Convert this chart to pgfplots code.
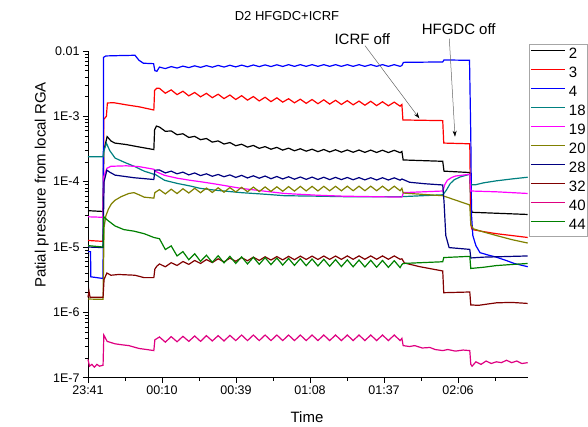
\documentclass[border=0pt]{standalone}
\usepackage{fontspec}
\setmainfont{Liberation Sans}
\usepackage{pgfplots}
\pgfplotsset{compat=1.18}
\usetikzlibrary{arrows.meta}
\definecolor{c2}{RGB}{0,0,0}
\definecolor{c3}{RGB}{255,0,0}
\definecolor{c4}{RGB}{0,0,255}
\definecolor{c18}{RGB}{0,128,128}
\definecolor{c19}{RGB}{255,0,255}
\definecolor{c20}{RGB}{128,128,0}
\definecolor{c28}{RGB}{0,0,128}
\definecolor{c32}{RGB}{128,0,0}
\definecolor{c40}{RGB}{222,0,128}
\definecolor{c44}{RGB}{0,128,0}
\begin{document}
\begin{tikzpicture}
\begin{axis}[
  scale only axis, width=439.7pt, height=326.7pt,
  at={(0,0)}, anchor=south west,
  ymode=log, xmin=0, xmax=172.3, ymin=1e-7, ymax=1e-2,
  axis lines=left, axis line style={-, line width=0.8pt},
  tick align=outside, tick style={black, line width=0.7pt},
  major tick length=5pt, minor tick length=3pt,
  xtick={0,29,58,87,116,145},
  xticklabels={23:41,00:10,00:39,01:08,01:37,02:06},
  minor xtick={14.5,43.5,72.5,101.5,130.5,159.5},
  ytick={1e-7,1e-6,1e-5,1e-4,1e-3,1e-2},
  yticklabels={1E-7,1E-6,1E-5,1E-4,1E-3,0.01},
  minor ytick={2e-7,3e-7,4e-7,5e-7,6e-7,7e-7,8e-7,9e-7,
    2e-6,3e-6,4e-6,5e-6,6e-6,7e-6,8e-6,9e-6,
    2e-5,3e-5,4e-5,5e-5,6e-5,7e-5,8e-5,9e-5,
    2e-4,3e-4,4e-4,5e-4,6e-4,7e-4,8e-4,9e-4,
    2e-3,3e-3,4e-3,5e-3,6e-3,7e-3,8e-3,9e-3},
  ticklabel style={font=\fontsize{12.5}{14}\selectfont},
  xlabel={Time}, ylabel={Patial pressure from local RGA},
  every axis y label/.style={at={(axis description cs:-0.1053,0.59)}, rotate=90, anchor=center, font=\fontsize{15}{18}\selectfont},
  every axis x label/.style={at={(axis description cs:0.498,-0.121)}, anchor=center, font=\fontsize{15}{18}\selectfont},
  clip=false,
  every axis plot/.append style={line width=1.2pt},
  legend style={at={(axis description cs:1.003,1.0205)}, anchor=north west,
    draw=gray!70, line width=0.5pt, font=\fontsize{15}{18}\selectfont,
    inner xsep=1pt, inner ysep=1pt, column sep=3pt, row sep=0pt,
    nodes={inner sep=0.5pt, text height=12.5pt, text depth=5.5pt}},
  legend cell align=left,
  legend image code/.code={\draw[#1, line width=1.2pt] (0pt,4.5pt) -- (34pt,4.5pt);},
]
% 2
\addplot[c2] coordinates {(0,3.6e-5)(5.9,3.5e-5)(6.2,3e-4)(7.5,4.9e-4)(9,4.2e-4)(10.5,3.9e-4)(15,3.7e-4)(20,3.4e-4)(25.8,3.1e-4)(26.1,6.2e-4)(26.8,7.1e-4)
(28.0,6.86e-4)(30.3,5.90e-4)(32.6,5.98e-4)(34.9,5.23e-4)(37.2,5.41e-4)(39.5,4.75e-4)(41.8,4.94e-4)(44.1,4.39e-4)(46.4,4.58e-4)(48.7,4.03e-4)(51.0,4.21e-4)(53.3,3.77e-4)(55.6,3.97e-4)(57.9,3.55e-4)(60.2,3.74e-4)(62.5,3.38e-4)(64.8,3.59e-4)(67.1,3.24e-4)(69.4,3.44e-4)(71.7,3.14e-4)(74.0,3.35e-4)(76.3,3.04e-4)(78.6,3.26e-4)(80.9,2.97e-4)(83.2,3.19e-4)(85.5,2.93e-4)(87.8,3.14e-4)(90.1,2.88e-4)(92.4,3.11e-4)(94.7,2.85e-4)(97.0,3.08e-4)(99.3,2.83e-4)(101.6,3.06e-4)(103.9,2.82e-4)(106.2,3.05e-4)(108.5,2.81e-4)(110.8,3.04e-4)(113.1,2.80e-4)(115.4,3.03e-4)(117.7,2.79e-4)(120.0,3.02e-4)(122.3,2.78e-4)
(123.0,2.9e-4)(123.5,2.15e-4)(139.0,2.05e-4)(139.5,1.45e-4)(149.6,1.38e-4)(150.0,4e-5)(150.5,3.4e-5)(172.3,3.15e-5)};
\addlegendentry{2}
% 3
\addplot[c3] coordinates {(0,1.26e-5)(5.9,1.22e-5)(6.2,9e-4)(7.2,1.0e-3)(7.6,1.6e-3)(10,1.62e-3)(15,1.5e-3)(20,1.4e-3)(25.8,1.25e-3)(26.1,2.5e-3)(27,2.7e-3)
(28.0,2.68e-3)(30.3,2.26e-3)(32.6,2.54e-3)(34.9,2.15e-3)(37.2,2.42e-3)(39.5,2.06e-3)(41.8,2.32e-3)(44.1,1.99e-3)(46.4,2.25e-3)(48.7,1.93e-3)(51.0,2.18e-3)(53.3,1.87e-3)(55.6,2.12e-3)(57.9,1.81e-3)(60.2,2.07e-3)(62.5,1.77e-3)(64.8,2.01e-3)(67.1,1.72e-3)(69.4,1.96e-3)(71.7,1.68e-3)(74.0,1.92e-3)(76.3,1.65e-3)(78.6,1.86e-3)(80.9,1.61e-3)(83.2,1.83e-3)(85.5,1.58e-3)(87.8,1.81e-3)(90.1,1.56e-3)(92.4,1.79e-3)(94.7,1.54e-3)(97.0,1.76e-3)(99.3,1.52e-3)(101.6,1.74e-3)(103.9,1.50e-3)(106.2,1.71e-3)(108.5,1.48e-3)(110.8,1.70e-3)(113.1,1.46e-3)(115.4,1.67e-3)(117.7,1.45e-3)(120.0,1.65e-3)(122.3,1.43e-3)
(123.0,1.52e-3)(123.4,8.8e-4)(139.0,8.6e-4)(139.4,3.9e-4)(149.6,3.8e-4)(150.0,2.2e-5)(150.5,1.85e-5)(155,1.72e-5)(160,1.6e-5)(166,1.5e-5)(172.3,1.4e-5)};
\addlegendentry{3}
% 4
\addplot[c4] coordinates {(0,8.5e-6)(1.0,8.5e-6)(1.1,3.5e-6)(5.9,3.3e-6)(6.1,8.0e-3)(7,8.4e-3)(12,8.5e-3)(18.4,8.6e-3)(20,7.2e-3)(21.7,6.5e-3)(25.7,6.4e-3)(26.2,5.0e-3)(27,4.9e-3)
(28.0,5.67e-3)(30.3,5.38e-3)(32.6,5.77e-3)(34.9,5.48e-3)(37.2,5.87e-3)(39.5,5.57e-3)(41.8,5.93e-3)(44.1,5.61e-3)(46.4,5.97e-3)(48.7,5.65e-3)(51.0,6.02e-3)(53.3,5.68e-3)(55.6,6.05e-3)(57.9,5.71e-3)(60.2,6.08e-3)(62.5,5.73e-3)(64.8,6.11e-3)(67.1,5.76e-3)(69.4,6.13e-3)(71.7,5.78e-3)(74.0,6.15e-3)(76.3,5.80e-3)(78.6,6.18e-3)(80.9,5.82e-3)(83.2,6.18e-3)(85.5,5.82e-3)(87.8,6.18e-3)(90.1,5.82e-3)(92.4,6.18e-3)(94.7,5.82e-3)(97.0,6.18e-3)(99.3,5.82e-3)(101.6,6.18e-3)(103.9,5.82e-3)(106.2,6.18e-3)(108.5,5.82e-3)(110.8,6.18e-3)(113.1,5.82e-3)(115.4,6.18e-3)(117.7,5.82e-3)(120.0,6.18e-3)(122.3,5.82e-3)
(123.0,6.0e-3)(123.6,6.7e-3)(139.0,6.8e-3)(139.5,7.3e-3)(149.5,7.2e-3)(150.0,5e-4)(150.3,3e-5)(150.8,1.5e-5)(152,1.05e-5)(153.6,8.2e-6)(157,7.5e-6)(160,7.0e-6)(164,6.2e-6)(167,5.6e-6)(172.3,5.0e-6)};
\addlegendentry{4}
% 18
\addplot[c18] coordinates {(0,2.4e-4)(5.9,2.4e-4)(6.3,3.0e-4)(7.2,3.9e-4)(8.5,3.0e-4)(10.6,2.3e-4)(14,2.0e-4)(18.4,1.7e-4)(22,1.45e-4)(25.8,1.3e-4)(26.2,1.3e-4)(30,1.05e-4)(35,9.4e-5)(40,8.6e-5)(44,7.9e-5)(50,7.4e-5)(60,6.8e-5)(70,6.4e-5)(77,6.1e-5)(90,6.0e-5)(100,5.9e-5)(123,5.9e-5)(131,6.1e-5)(139.1,6.3e-5)(140.5,7.5e-5)(141.9,9.3e-5)(143.5,1.07e-4)(145.8,1.18e-4)(149.6,1.3e-4)(150.0,9.0e-5)(152,9.0e-5)(155,9.6e-5)(160,1.03e-4)(166,1.1e-4)(172.3,1.17e-4)};
\addlegendentry{18}
% 19
\addplot[c19] coordinates {(0,2.9e-5)(5.9,2.85e-5)(6.2,1.2e-4)(7.4,1.6e-4)(9,1.72e-4)(15,1.75e-4)(20,1.7e-4)(25.8,1.55e-4)(26.2,1.45e-4)(30,1.25e-4)(35,1.13e-4)(40,1.05e-4)(44,1.0e-4)(50,9.2e-5)(60,7.9e-5)(70,7.1e-5)(77,6.6e-5)(90,6.2e-5)(100,6.0e-5)(123,5.8e-5)(123.6,6.8e-5)(139.1,7.2e-5)(139.8,9.0e-5)(140.8,1.05e-4)(142.5,1.16e-4)(144,1.22e-4)(149.6,1.3e-4)(150,7.2e-5)(160,7.0e-5)(172.3,6.6e-5)};
\addlegendentry{19}
% 20
\addplot[c20] coordinates {(0,1.6e-6)(5.9,1.58e-6)(6.3,2e-5)(7,3.0e-5)(8,3.8e-5)(9.2,4.6e-5)(10.6,5.2e-5)(13,5.9e-5)(16,6.6e-5)(18,6.8e-5)(20,6.3e-5)(22,5.8e-5)(25.8,5.6e-5)(26.2,6.8e-5)
(28.0,7.56e-5)(30.3,6.50e-5)(32.6,7.67e-5)(34.9,6.58e-5)(37.2,7.80e-5)(39.5,6.71e-5)(41.8,7.92e-5)(44.1,6.77e-5)(46.4,7.99e-5)(48.7,6.84e-5)(51.0,8.07e-5)(53.3,6.90e-5)(55.6,8.13e-5)(57.9,6.96e-5)(60.2,8.21e-5)(62.5,7.02e-5)(64.8,8.26e-5)(67.1,7.06e-5)(69.4,8.31e-5)(71.7,7.10e-5)(74.0,8.36e-5)(76.3,7.14e-5)(78.6,8.41e-5)(80.9,7.18e-5)(83.2,8.48e-5)(85.5,7.22e-5)(87.8,8.48e-5)(90.1,7.22e-5)(92.4,8.5e-5)(94.7,7.25e-5)(97.0,8.5e-5)(99.3,7.25e-5)(101.6,8.53e-5)(103.9,7.27e-5)(106.2,8.53e-5)(108.5,7.27e-5)(110.8,8.53e-5)(113.1,7.27e-5)(115.4,8.53e-5)(117.7,7.27e-5)(120.0,8.53e-5)(122.3,7.27e-5)
(123.0,7.9e-5)(123.5,6.7e-5)(139,6.1e-5)(149.6,4.4e-5)(150.0,2.2e-5)(151,1.9e-5)(155,1.7e-5)(160,1.5e-5)(166,1.3e-5)(172.3,1.15e-5)};
\addlegendentry{20}
% 28
\addplot[c28] coordinates {(0,1.0e-5)(5.9,9.8e-6)(6.3,1.0e-4)(7.4,1.5e-4)(8.5,1.4e-4)(10.6,1.26e-4)(18,1.15e-4)(25.8,1.08e-4)(26.2,1.5e-4)
(28.0,1.51e-4)(30.3,1.36e-4)(32.6,1.45e-4)(34.9,1.32e-4)(37.2,1.40e-4)(39.5,1.27e-4)(41.8,1.36e-4)(44.1,1.24e-4)(46.4,1.32e-4)(48.7,1.21e-4)(51.0,1.29e-4)(53.3,1.19e-4)(55.6,1.27e-4)(57.9,1.16e-4)(60.2,1.25e-4)(62.5,1.14e-4)(64.8,1.23e-4)(67.1,1.13e-4)(69.4,1.22e-4)(71.7,1.11e-4)(74.0,1.20e-4)(76.3,1.10e-4)(78.6,1.19e-4)(80.9,1.09e-4)(83.2,1.18e-4)(85.5,1.085e-4)(87.8,1.175e-4)(90.1,1.08e-4)(92.4,1.17e-4)(94.7,1.075e-4)(97.0,1.165e-4)(99.3,1.075e-4)(101.6,1.16e-4)(103.9,1.07e-4)(106.2,1.155e-4)(108.5,1.065e-4)(110.8,1.15e-4)(113.1,1.06e-4)(115.4,1.15e-4)(117.7,1.06e-4)(120.0,1.145e-4)(122.3,1.055e-4)
(123,1.1e-4)(126,9.8e-5)(132,9.3e-5)(139,8.9e-5)(139.5,5e-5)(140.2,1.5e-5)(141.5,9.8e-6)(149.6,9.2e-6)(150,6.8e-6)(155,7.0e-6)(172.3,7.3e-6)};
\addlegendentry{28}
% 32
\addplot[c32] coordinates {(0,1.7e-6)(0.4,2.1e-6)(0.8,1.7e-6)(5.9,1.7e-6)(6.3,3.2e-6)(7.4,4.0e-6)(9,3.7e-6)(12,3.8e-6)(18.4,3.7e-6)(22,3.4e-6)(25.8,3.4e-6)(26.2,4.6e-6)(27,5.1e-6)
(28.0,5.51e-6)(30.3,4.98e-6)(32.6,5.76e-6)(34.9,5.22e-6)(37.2,6.0e-6)(39.5,5.43e-6)(41.8,6.22e-6)(44.1,5.60e-6)(46.4,6.42e-6)(48.7,5.78e-6)(51.0,6.60e-6)(53.3,5.92e-6)(55.6,6.75e-6)(57.9,6.05e-6)(60.2,6.89e-6)(62.5,6.16e-6)(64.8,7.0e-6)(67.1,6.24e-6)(69.4,7.09e-6)(71.7,6.32e-6)(74.0,7.14e-6)(76.3,6.35e-6)(78.6,7.2e-6)(80.9,6.39e-6)(83.2,7.25e-6)(85.5,6.45e-6)(87.8,7.25e-6)(90.1,6.45e-6)(92.4,7.28e-6)(94.7,6.47e-6)(97.0,7.28e-6)(99.3,6.47e-6)(101.6,7.31e-6)(103.9,6.49e-6)(106.2,7.31e-6)(108.5,6.49e-6)(110.8,7.31e-6)(113.1,6.49e-6)(115.4,7.31e-6)(117.7,6.49e-6)(120.0,7.31e-6)(122.3,6.49e-6)
(123,6.6e-6)(124,5.7e-6)(130,5.0e-6)(139,4.3e-6)(139.4,2.0e-6)(149.6,2.05e-6)(150.0,1.3e-6)(153,1.28e-6)(160,1.4e-6)(166,1.42e-6)(172.3,1.37e-6)};
\addlegendentry{32}
% 40
\addplot[c40] coordinates {(0,1.9e-7)(0.6,1.5e-7)(1.5,1.6e-7)(2.5,1.45e-7)(3.5,1.6e-7)(4.5,1.5e-7)(5.9,1.55e-7)(6.2,4.5e-7)(7.5,3.6e-7)(10.6,3.3e-7)(13,3.2e-7)(16,3.1e-7)(20,2.8e-7)(23,2.7e-7)(25.8,2.6e-7)(26.2,3.8e-7)
(28.0,4.2e-7)(30.3,3.5e-7)(32.6,4.25e-7)(34.9,3.55e-7)(37.2,4.3e-7)(39.5,3.6e-7)(41.8,4.35e-7)(44.1,3.6e-7)(46.4,4.4e-7)(48.7,3.65e-7)(51.0,4.4e-7)(53.3,3.65e-7)(55.6,4.45e-7)(57.9,3.7e-7)(60.2,4.5e-7)(62.5,3.7e-7)(64.8,4.5e-7)(67.1,3.7e-7)(69.4,4.5e-7)(71.7,3.7e-7)(74.0,4.5e-7)(76.3,3.7e-7)(78.6,4.5e-7)(80.9,3.7e-7)(83.2,4.5e-7)(85.5,3.7e-7)(87.8,4.5e-7)(90.1,3.7e-7)(92.4,4.5e-7)(94.7,3.7e-7)(97.0,4.5e-7)(99.3,3.7e-7)(101.6,4.5e-7)(103.9,3.7e-7)(106.2,4.5e-7)(108.5,3.7e-7)(110.8,4.5e-7)(113.1,3.7e-7)(115.4,4.5e-7)(117.7,3.7e-7)(120.0,4.5e-7)(122.3,3.7e-7)
(123,4.0e-7)(123.5,3.1e-7)(126,3.0e-7)(128,3.1e-7)(131,2.85e-7)(134,2.9e-7)(136,2.7e-7)(139,2.6e-7)(141,2.7e-7)(144,2.55e-7)(147,2.65e-7)(149.6,2.6e-7)(150,1.6e-7)(150.5,1.5e-7)(152,1.75e-7)(154,1.6e-7)(156,1.8e-7)(158,1.65e-7)(160,1.75e-7)(162,1.7e-7)(164,1.85e-7)(166,1.7e-7)(168,1.8e-7)(170,1.65e-7)(172.3,1.7e-7)};
\addlegendentry{40}
% 44
\addplot[c44] coordinates {(0,1.05e-5)(5.9,1.0e-5)(6.2,2.9e-5)(7.5,2.6e-5)(10.6,2.1e-5)(14,1.85e-5)(18,1.75e-5)(22,1.6e-5)(25.8,1.4e-5)
(28.0,1.34e-5)(30.3,9.15e-6)(32.6,1.04e-5)(34.9,7.30e-6)(37.2,8.51e-6)(39.5,6.38e-6)(41.8,7.90e-6)(44.1,6.03e-6)(46.4,7.50e-6)(48.7,5.83e-6)(51.0,7.36e-6)(53.3,5.72e-6)(55.6,7.21e-6)(57.9,5.61e-6)(60.2,7.06e-6)(62.5,5.51e-6)(64.8,6.97e-6)(67.1,5.44e-6)(69.4,6.88e-6)(71.7,5.37e-6)(74.0,6.78e-6)(76.3,5.29e-6)(78.6,6.70e-6)(80.9,5.24e-6)(83.2,6.63e-6)(85.5,5.18e-6)(87.8,6.56e-6)(90.1,5.13e-6)(92.4,6.50e-6)(94.7,5.08e-6)(97.0,6.43e-6)(99.3,5.02e-6)(101.6,6.36e-6)(103.9,4.98e-6)(106.2,6.32e-6)(108.5,4.95e-6)(110.8,6.27e-6)(113.1,4.91e-6)(115.4,6.23e-6)(117.7,4.88e-6)(120.0,6.18e-6)(122.3,4.84e-6)
(123,5.4e-6)(123.5,5.6e-6)(130,5.75e-6)(139,5.95e-6)(139.4,6.9e-6)(149.6,7.2e-6)(150,4.7e-6)(155,4.9e-6)(160,5.2e-6)(166,5.4e-6)(172.3,5.6e-6)};
\addlegendentry{44}
\end{axis}
\node[font=\fontsize{13}{15}\selectfont] at (199pt,361.7pt) {D2 HFGDC+ICRF};
\node[font=\fontsize{15}{18}\selectfont] at (274.3pt,338.2pt) {ICRF off};
\node[font=\fontsize{15}{18}\selectfont] at (370.7pt,348.2pt) {HFGDC off};
\draw[gray!80!black, line width=0.5pt, -{Stealth[length=6pt,width=4pt,black]}] (277pt,332pt) -- (331.3pt,259.4pt);
\draw[gray!80!black, line width=0.5pt, -{Stealth[length=6pt,width=4pt,black]}] (361.3pt,339pt) -- (367pt,241pt);
\pgfresetboundingbox
\path (-88pt,-49.3pt) rectangle (500pt,377.7pt);
\end{tikzpicture}
\end{document}
